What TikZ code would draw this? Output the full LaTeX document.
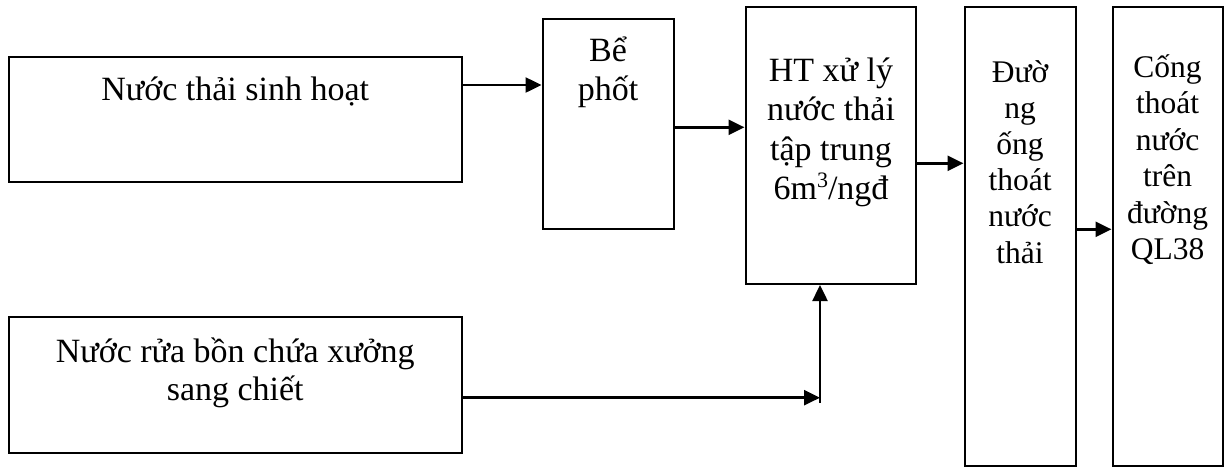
\documentclass[tikz,border=0pt]{standalone}
\usepackage{fontspec}
\setmainfont{Liberation Serif}
\usetikzlibrary{arrows.meta}

% centred lines with a fixed distance between baselines;
% the box's reference point is the baseline of the first line
\newcommand\linesbox[2]{\vtop{\baselineskip=#1\lineskiplimit=-\maxdimen\lineskip=0pt\let\\\cr\halign{\hfil##\hfil\cr#2\cr}}}
% small raised figure (cubic metre exponent)
\newcommand\upfig[1]{\raise12pt\hbox{\fontsize{22}{22}\selectfont #1}}

\tikzset{
  box/.style={draw, rectangle, line width=2pt, inner sep=0pt},
  flow/.style={line width=2.5pt, -{Triangle[length=16pt,width=15pt]}},
  bigtext/.style={inner sep=0pt, anchor=base, font=\fontsize{34}{39}\selectfont},
  smalltext/.style={inner sep=0pt, anchor=base, font=\fontsize{31.5}{36.4}\selectfont},
}

\begin{document}
\begin{tikzpicture}[x=1pt, y=-1pt]
  \fill[white] (0,0) rectangle (1224,467);
  \useasboundingbox (0,0) rectangle (1224,467);

  % boxes
  \node[box, minimum width=452.5pt, minimum height=125pt] (b1) at (235.25,119) {};
  \node[box, minimum width=131pt,   minimum height=210pt] (b2) at (608,124) {};
  \node[box, minimum width=170pt,   minimum height=277pt] (b3) at (830.5,145.5) {};
  \node[box, minimum width=111pt,   minimum height=459pt] (b4) at (1020,236.5) {};
  \node[box, minimum width=110pt,   minimum height=459pt] (b5) at (1167.5,236.5) {};
  \node[box, minimum width=452.5pt, minimum height=136pt] (b6) at (235.25,385) {};

  % box texts
  \node[bigtext] (t1) at (235.25,100.7) {Nước thải sinh hoạt};
  \node[bigtext] (t2) at (608,61.7) {\linesbox{39pt}{Bể\\phốt}};
  \node[bigtext] (t3) at (831,81) {\linesbox{39.5pt}{HT xử lý\\nước thải\\tập trung\\6m\upfig{3}/ngđ}};
  \node[smalltext] (t4) at (1020,82.5) {\linesbox{36.1pt}{Đườ\\ng\\ống\\thoát\\nước\\thải}};
  \node[smalltext] (t5) at (1167.5,77.5) {\linesbox{36.4pt}{Cống\\thoát\\nước\\trên\\đường\\QL38}};
  \node[bigtext] (t6) at (235.25,362) {\linesbox{38pt}{Nước rửa bồn chứa xưởng\\sang chiết}};

  % heights of the connectors
  \coordinate (h1) at (0,85);
  \coordinate (h2) at (0,127.3);
  \coordinate (h3) at (0,163.3);
  \coordinate (h4) at (0,229.3);
  \coordinate (h6) at (0,397.7);
  \coordinate (j)  at (820,397.7);
  \coordinate (jb) at (820,403);

  % connectors
  \draw[flow] (b1.east |- h1) -- (b2.west |- h1);
  \draw[flow] (b2.east |- h2) -- (b3.west |- h2);
  \draw[flow] (b3.east |- h3) -- (b4.west |- h3);
  \draw[flow] (b4.east |- h4) -- (b5.west |- h4);
  \draw[flow] (b6.east |- h6) -- (j);
  \draw[flow] (jb) -- (jb |- b3.south);
\end{tikzpicture}
\end{document}
